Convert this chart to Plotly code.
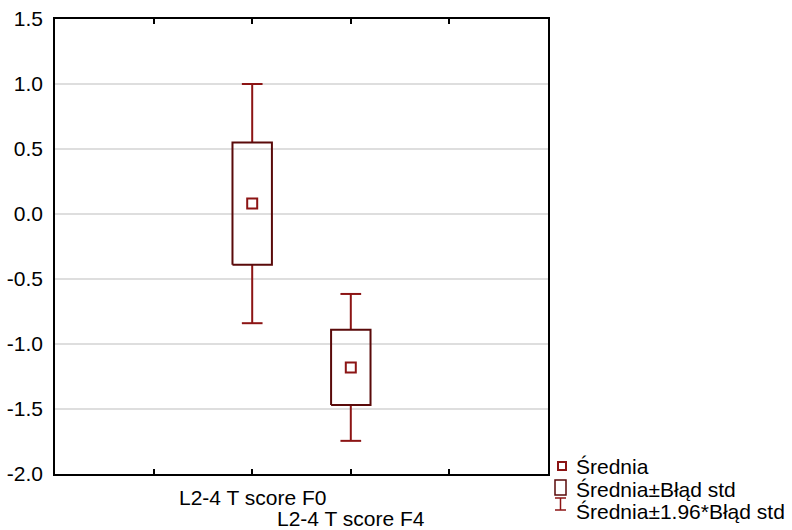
import plotly.graph_objects as go

# ---- data ----
categories = ["L2-4 T score F0", "L2-4 T score F4"]
cat_pos = [2, 3]
means = [0.08, -1.18]
se_low = [-0.39, -1.47]
se_high = [0.55, -0.89]
ci_low = [-0.84, -1.745]
ci_high = [1.00, -0.615]
y_ticks = [1.5, 1.0, 0.5, 0.0, -0.5, -1.0, -1.5, -2.0]
y_ticktext = ["1.5", "1.0", "0.5", "0.0", "-0.5", "-1.0", "-1.5", "-2.0"]
legend_labels = ["Średnia", "Średnia±Błąd std", "Średnia±1.96*Błąd std"]

FONT = "Liberation Sans, Arial, sans-serif"
FS = 21
BOX_COL = "rgb(90,10,10)"
WHI_COL = "rgb(140,20,20)"
W, H = 792, 530
L, R, T, B = 55, 244, 19, 56
half_box = 0.2
half_cap = 0.105

fig = go.Figure()

# whiskers
wx, wy = [], []
for c, sh, sl, ch, cl in zip(cat_pos, se_high, se_low, ci_high, ci_low):
    wx += [c, c, None, c - half_cap, c + half_cap, None,
           c, c, None, c - half_cap, c + half_cap, None]
    wy += [sh, ch, None, ch, ch, None, sl, cl, None, cl, cl, None]
fig.add_trace(go.Scatter(x=wx, y=wy, mode="lines",
                         line=dict(color=WHI_COL, width=2),
                         hoverinfo="skip", showlegend=False))

# boxes
bx, by = [], []
for c, sh, sl in zip(cat_pos, se_high, se_low):
    bx += [c - half_box, c + half_box, c + half_box, c - half_box, c - half_box, None]
    by += [sl, sl, sh, sh, sl, None]
fig.add_trace(go.Scatter(x=bx, y=by, mode="lines",
                         line=dict(color=BOX_COL, width=2),
                         hoverinfo="skip", showlegend=False))

# means
fig.add_trace(go.Scatter(x=cat_pos, y=means, mode="markers",
                         marker=dict(symbol="square-open", size=10,
                                     color=WHI_COL, line=dict(width=2)),
                         showlegend=False))


def px_x(px):
    return (px - L) / (W - L - R)


def px_y(py):
    return (H - B - py) / (H - T - B)


# category labels (staggered)
label_y = [497, 518]
for c, name, ly in zip(cat_pos, categories, label_y):
    fig.add_annotation(x=c, xref="x", y=px_y(ly), yref="paper", text=name,
                       showarrow=False, borderpad=0,
                       font=dict(family=FONT, size=FS, color="black"),
                       xanchor="center", yanchor="middle")

# manual legend
leg_y = [466, 489, 512]
fig.add_shape(type="rect", xref="paper", yref="paper",
              x0=px_x(558), x1=px_x(566), y0=px_y(470), y1=px_y(462),
              line=dict(color=WHI_COL, width=2))
fig.add_shape(type="rect", xref="paper", yref="paper",
              x0=px_x(555), x1=px_x(566), y0=px_y(495), y1=px_y(480),
              line=dict(color=BOX_COL, width=1.5))
for (x0, y0, x1, y1) in [(560.5, 498, 560.5, 510), (555, 498, 566, 498), (555, 510, 566, 510)]:
    fig.add_shape(type="line", xref="paper", yref="paper",
                  x0=px_x(x0), x1=px_x(x1), y0=px_y(y0), y1=px_y(y1),
                  line=dict(color=WHI_COL, width=1.5))
for lab, yy in zip(legend_labels, leg_y):
    fig.add_annotation(x=px_x(575), y=px_y(yy), xref="paper", yref="paper",
                       text=lab, showarrow=False, xanchor="left", yanchor="middle",
                       borderpad=0,
                       font=dict(family=FONT, size=FS, color="black"))

fig.update_xaxes(range=[0, 5], tickvals=[1, 2, 3, 4], ticks="inside", ticklen=5,
                 tickwidth=1.5, tickcolor="black", showticklabels=False,
                 showgrid=False, zeroline=False, showline=True, linecolor="black",
                 linewidth=1.5, mirror="ticks", automargin=False)
fig.update_yaxes(range=[-2.0, 1.5], tickvals=y_ticks, ticktext=y_ticktext, ticks="",
                 showgrid=True, gridcolor="rgb(222,222,222)", gridwidth=1.5,
                 zeroline=False, showline=True, linecolor="black", linewidth=1.5,
                 mirror=True, ticklabelstandoff=6, automargin=False,
                 tickfont=dict(family=FONT, size=FS, color="black"))

fig.update_layout(width=W, height=H, margin=dict(l=L, r=R, t=T, b=B),
                  plot_bgcolor="white", paper_bgcolor="white",
                  font=dict(family=FONT, size=FS, color="black"),
                  showlegend=False)

fig.write_html("out.html")
